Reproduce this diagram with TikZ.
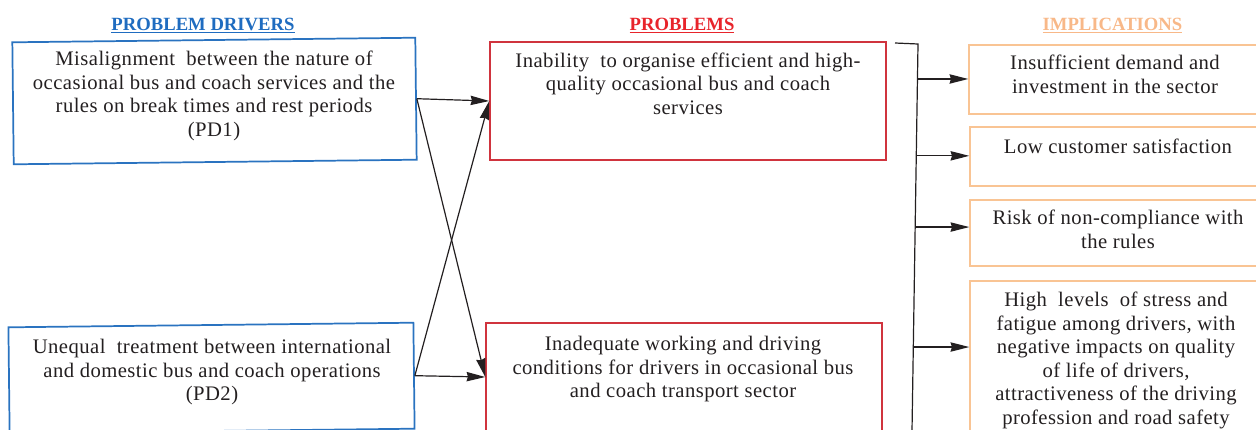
\documentclass[tikz,border=0pt]{standalone}
\usepackage{fontspec}
\setmainfont{Liberation Serif}
\usetikzlibrary{arrows.meta,calc}
\definecolor{pdblue}{HTML}{2A73C0}
\definecolor{hblue}{HTML}{1F6CC0}
\definecolor{pred}{HTML}{D0343E}
\definecolor{hred}{HTML}{E8242B}
\definecolor{iorange}{HTML}{F9C494}
\definecolor{horange}{HTML}{F8B888}
\definecolor{txt}{HTML}{231F20}
\begin{document}
\begin{tikzpicture}[x=0.75pt,y=-0.75pt,
  boxbase/.style={draw,inner sep=0pt,line width=1.1pt},
  pdbox/.style={boxbase,draw=pdblue,line width=1.3pt,rotate=0.65},
  pbox/.style={boxbase,draw=pred},
  ibox/.style={boxbase,draw=iorange},
  btext/.style={anchor=north,inner sep=0pt,align=center,text=txt,
    font=\fontsize{15.5}{17.6}\selectfont\addfontfeature{LetterSpace=2.2}},
  head/.style={anchor=base,inner sep=0pt,font=\fontsize{14}{16}\selectfont\bfseries},
  arr/.style={line width=0.9pt,draw=txt,-{Stealth[length=14pt,width=7pt,inset=1pt]}},
  brk/.style={line width=0.9pt,draw=txt}]
\useasboundingbox (0,0) rectangle (1256,429);
\clip (0,0) rectangle (1256,429);

% headings
\node[head,text=hblue] (h1) at (203,30) {\underline{PROBLEM DRIVERS}};
\node[head,text=hred] (h2) at (682,30) {\underline{PROBLEMS}};
\node[head,text=horange] (h3) at (1112.5,30) {\underline{IMPLICATIONS}};

% problem drivers
\node[pdbox,minimum width=302.25pt,minimum height=91.5pt] (pd1) at (214.5,101) {};
\node[btext] (pd1t) at (214,51) {Misalignment \ between the nature of\\occasional bus and coach services and the\\rules on break times and rest periods\\(PD1)};
\node[pdbox,minimum width=303.75pt,minimum height=79.5pt] (pd2) at (211.5,378) {};
\node[btext] (pd2t) at (212,339) {Unequal \ treatment between international\\and domestic bus and coach operations\\(PD2)};

% problems
\node[pbox,minimum width=297pt,minimum height=88.5pt] (p1) at (688,101) {};
\node[btext] (p1t) at (688,52.6) {Inability \ to organise efficient and high-\\quality occasional bus and coach\\services};
\node[pbox,minimum width=297pt,minimum height=81pt] (p2) at (684,377) {};
\node[btext] (p2t) at (683,336) {Inadequate working and driving\\conditions for drivers in occasional bus\\and coach transport sector};

% implications
\node[ibox,minimum width=219.75pt,minimum height=51.75pt] (i1) at (1115.5,79.5) {};
\node[btext] (i1t) at (1115,55) {Insufficient demand and\\investment in the sector};
\node[ibox,minimum width=219pt,minimum height=44.25pt] (i2) at (1116,156.5) {};
\node[btext] (i2t) at (1118,139) {Low customer satisfaction};
\node[ibox,minimum width=219pt,minimum height=49.5pt] (i3) at (1116,233) {};
\node[btext] (i3t) at (1118,210) {Risk of non-compliance with\\the rules};
\node[ibox,minimum width=219pt,minimum height=119.25pt] (i4) at (1116,360.5) {};
\node[btext] (i4t) at (1116,292) {High \ levels \ of stress and\\fatigue among drivers, with\\negative impacts on quality\\of life of drivers,\\attractiveness of the driving\\profession and road safety};

% driver -> problem arrows
\draw[arr] (pd1.east) -- (p1.west);
\draw[arr] (pd1.east) -- (p2.west);
\draw[arr] (pd2.east) -- (p2.west);
\draw[arr] (pd2.east) -- (p1.west);

% bracket
\coordinate (bs) at (895,43);
\coordinate (bt) at (918,44);
\coordinate (bb) at (912,431);
\draw[brk] (bs) -- (bt) -- (bb);
\coordinate (b1) at ($(bt)!0.0904!(bb)$);
\coordinate (b2) at ($(bt)!0.289!(bb)$);
\coordinate (b3) at ($(bt)!0.473!(bb)$);
\coordinate (b4) at ($(bt)!0.783!(bb)$);
\draw[arr] (b1) -- (b1 -| i1.west);
\draw[arr] (b2) -- (b2 -| i2.west);
\draw[arr] (b3) -- (b3 -| i3.west);
\draw[arr] (b4) -- (b4 -| i4.west);
\end{tikzpicture}
\end{document}
